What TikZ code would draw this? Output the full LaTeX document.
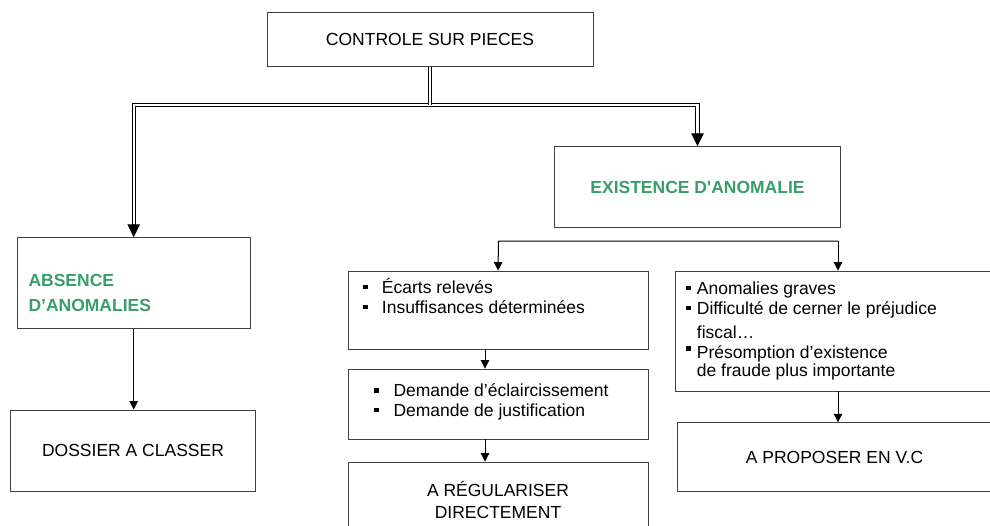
\documentclass[tikz,border=0pt]{standalone}
\usepackage{fontspec}
\setmainfont{Liberation Sans}
\usetikzlibrary{arrows.meta, positioning}

\definecolor{vertano}{RGB}{56,158,106}
\newcommand{\puce}[2][4pt]{\llap{\rule[#1]{4.5pt}{4.5pt}\hspace{#2}}}

\begin{document}
\begin{tikzpicture}[x=1pt, y=-1pt, >={Triangle[length=8.5pt,width=8.5pt]},
	box/.style={draw=black!75, line width=0.9pt, inner sep=0pt, font=\fontsize{17.5}{21}\selectfont},
	txt/.style={inner sep=0pt, anchor=base west, font=\fontsize{17.5}{21}\selectfont},
	titre/.style={font=\fontsize{17.5}{21}\selectfont\bfseries, text=vertano},
	dbl/.style={double, double distance=2.4pt, line width=1pt},
	dtip/.style={-{Triangle[length=13pt,width=12.5pt]}, line width=1pt},
	fleche/.style={->, line width=1pt}]
		
		\useasboundingbox (0,0) rectangle (990,525);
		
		\node (ctrl) 
			[box, minimum width=326pt, minimum height=54.4pt] at (430,39.5) {CONTROLE SUR PIECES};
		
		\node (exist) 
			[box, titre, minimum width=286.4pt, minimum height=81pt] at (697.5,187.2) {EXISTENCE D\textquotesingle ANOMALIE};
		
		% branche gauche
		\node (absence) 
			[box, minimum width=232.7pt, minimum height=90.6pt] at (133.7,283) {};
			\node (abs1) [txt, titre] at (28.3,286) {ABSENCE};
			\node (abs2) [txt, titre] at (28.3,311.5) {D’ANOMALIES};
		\node (dossier) 
			[box, minimum width=245.4pt, minimum height=81.4pt] at (133,450.7) {DOSSIER A CLASSER};
		
		% branche du milieu
		\node (ecarts) 
			[box, minimum width=300pt, minimum height=78pt] at (498,310) {};
			\foreach \t [count=\i] in {Écarts relevés, Insuffisances déterminées}
				\node (ecarts-\i) [txt] at (381.7,273.3+20*\i) {\puce{14pt}\t};
		\node (demande) 
			[box, minimum width=300pt, minimum height=70pt] at (498,404) {};
			\foreach \t [count=\i] in {Demande d’éclaircissement, Demande de justification}
				\node (demande-\i) [txt] at (393.3,377+19.7*\i) {\puce{15pt}\t};
		\node (regul) 
			[box, minimum width=300pt, minimum height=90pt] at (498,507) {};
			\node (regul1) [txt, anchor=base] at (498,496.5) {A RÉGULARISER};
			\node (regul2) [txt, anchor=base] at (498,518.5) {DIRECTEMENT};
		
		% branche droite
		\node (anomal) 
			[box, minimum width=317pt, minimum height=120pt] at (833.5,331) {};
			\node (anomal-1) [txt] at (696.7,294) {\puce{6pt}Anomalies graves};
			\node (anomal-2) [txt] at (696.7,314.3) {\puce{6pt}Difficulté de cerner le préjudice};
			\node (anomal-3) [txt] at (696.7,338) {fiscal…};
			\node (anomal-4) [txt] at (696.7,358.5) {\puce[8pt]{6pt}Présomption d’existence};
			\node (anomal-5) [txt] at (696.7,376) {de fraude plus importante};
		\node (vc) 
			[box, minimum width=315pt, minimum height=68.5pt] at (834.5,457) {A PROPOSER EN V.C};
		
		\coordinate (hub) at (430,104.7);
		\coordinate (splitL) at (498.5,241);
		\coordinate (splitR) at (838,241);
		
		% traits doubles
		\draw [dbl, shorten >=12pt] (hub) -| (absence.north);
		\draw [dbl, shorten >=12pt] (hub) -| (exist.north);
		\draw [dbl] (ctrl.south) -- (hub);
		\draw [dtip] ([yshift=13pt]absence.north) -- (absence.north);
		\draw [dtip] ([yshift=13pt]exist.north) -- (exist.north);
		
		% fleches simples
		\draw [fleche] (absence.south) -- (absence.south |- dossier.north);
		\draw [fleche] (splitR) -- (splitL) -- (ecarts.north);
		\draw [fleche] (splitR) -- (splitR |- anomal.north);
		\draw [fleche] ([xshift=-13pt]ecarts.south) -- ([xshift=-13pt]demande.north);
		\draw [fleche] ([xshift=-13pt]demande.south) -- ([xshift=-13pt]regul.north);
		\draw [fleche] (anomal.south -| splitR) -- (vc.north -| splitR);
	\end{tikzpicture}
\end{document}
